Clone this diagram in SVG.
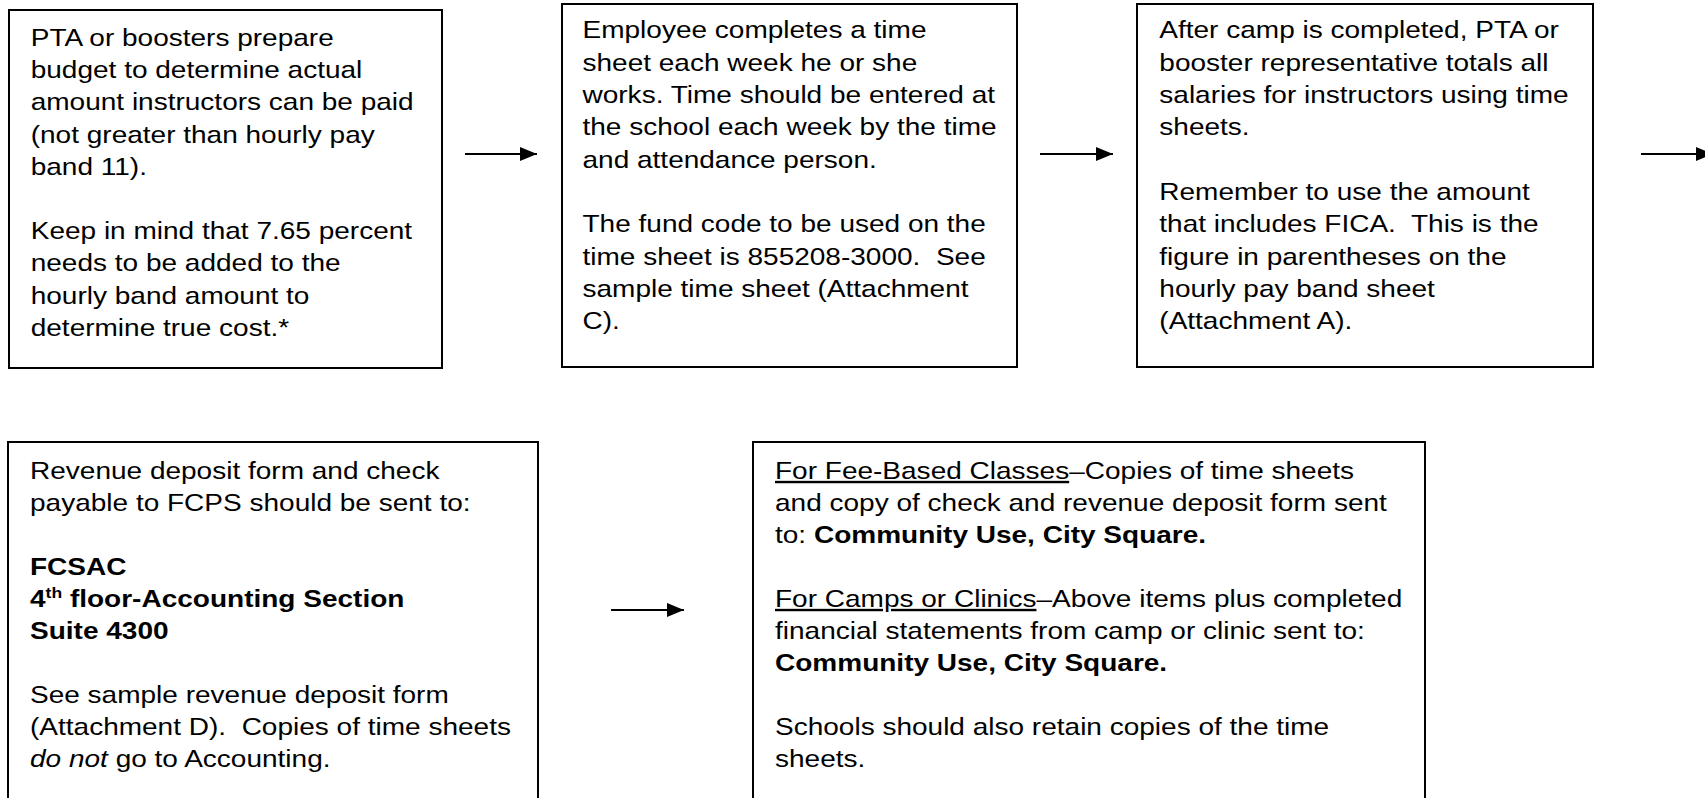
<svg xmlns="http://www.w3.org/2000/svg" width="1705" height="798" viewBox="0 0 1705 798">
<style>
.box{fill:#fff;stroke:#000;stroke-width:2}
.t{font-family:"Liberation Sans",Arial,sans-serif;font-size:24px;fill:#000}
.b{font-weight:bold}
.u{text-decoration:underline}
.conn{stroke:#000;stroke-width:2;fill:none;marker-end:url(#ah)}
</style>
<defs>
<marker id="ah" markerUnits="userSpaceOnUse" markerWidth="18" markerHeight="16" refX="17" refY="7" orient="auto">
<path d="M0,0 L17,7 L0,14 Z" fill="#000"/>
</marker>
</defs>
<rect width="1705" height="798" fill="#fff"/>

<g id="node1">
<rect class="box" x="9" y="10" width="433" height="358"/>
<g transform="translate(30.7 0) scale(1.167 1)">
<text class="t" x="0" y="46">PTA or boosters prepare</text>
<text class="t" x="0" y="78.2">budget to determine actual</text>
<text class="t" x="0" y="110.4">amount instructors can be paid</text>
<text class="t" x="0" y="142.6">(not greater than hourly pay</text>
<text class="t" x="0" y="174.8">band 11).</text>
<text class="t" x="0" y="239.2">Keep in mind that 7.65 percent</text>
<text class="t" x="0" y="271.4">needs to be added to the</text>
<text class="t" x="0" y="303.6">hourly band amount to</text>
<text class="t" x="0" y="335.8">determine true cost.*</text>
</g>
</g>

<g id="node2">
<rect class="box" x="562" y="4" width="455" height="363"/>
<g transform="translate(582.5 0) scale(1.167 1)">
<text class="t" x="0" y="38.5">Employee completes a time</text>
<text class="t" x="0" y="70.8">sheet each week he or she</text>
<text class="t" x="0" y="103.1">works. Time should be entered at</text>
<text class="t" x="0" y="135.4">the school each week by the time</text>
<text class="t" x="0" y="167.7">and attendance person.</text>
<text class="t" x="0" y="232.3">The fund code to be used on the</text>
<text class="t" x="0" y="264.6" xml:space="preserve">time sheet is 855208-3000.  See</text>
<text class="t" x="0" y="296.9">sample time sheet (Attachment</text>
<text class="t" x="0" y="329.2">C).</text>
</g>
</g>

<g id="node3">
<rect class="box" x="1137" y="4" width="456" height="363"/>
<g transform="translate(1159.3 0) scale(1.167 1)">
<text class="t" x="0" y="38.5">After camp is completed, PTA or</text>
<text class="t" x="0" y="70.8">booster representative totals all</text>
<text class="t" x="0" y="103.1">salaries for instructors using time</text>
<text class="t" x="0" y="135.4">sheets.</text>
<text class="t" x="0" y="200">Remember to use the amount</text>
<text class="t" x="0" y="232.3" xml:space="preserve">that includes FICA.  This is the</text>
<text class="t" x="0" y="264.6">figure in parentheses on the</text>
<text class="t" x="0" y="296.9">hourly pay band sheet</text>
<text class="t" x="0" y="329.2">(Attachment A).</text>
</g>
</g>

<g id="node4">
<rect class="box" x="8" y="442" width="530" height="400"/>
<g transform="translate(30 0) scale(1.167 1)">
<text class="t" x="0" y="479">Revenue deposit form and check</text>
<text class="t" x="0" y="511">payable to FCPS should be sent to:</text>
<text class="t b" x="0" y="575">FCSAC</text>
<text class="t b" x="0" y="607">4<tspan font-size="15" dy="-9">th</tspan><tspan dy="9"> floor-Accounting Section</tspan></text>
<text class="t b" x="0" y="639">Suite 4300</text>
<text class="t" x="0" y="703">See sample revenue deposit form</text>
<text class="t" x="0" y="735" xml:space="preserve">(Attachment D).  Copies of time sheets</text>
<text class="t" x="0" y="767"><tspan font-style="italic">do not</tspan> go to Accounting.</text>
</g>
</g>

<g id="node5">
<rect class="box" x="753" y="442" width="672" height="400"/>
<g transform="translate(775 0) scale(1.167 1)">
<text class="t" x="0" y="479"><tspan class="u">For Fee-Based Classes</tspan>–Copies of time sheets</text>
<text class="t" x="0" y="511">and copy of check and revenue deposit form sent</text>
<text class="t" x="0" y="543">to: <tspan class="b">Community Use, City Square.</tspan></text>
<text class="t" x="0" y="607"><tspan class="u">For Camps or Clinics</tspan>–Above items plus completed</text>
<text class="t" x="0" y="639">financial statements from camp or clinic sent to:</text>
<text class="t b" x="0" y="671">Community Use, City Square.</text>
<text class="t" x="0" y="735">Schools should also retain copies of the time</text>
<text class="t" x="0" y="767">sheets.</text>
</g>
</g>

<g id="connectors">
<line class="conn" x1="465" y1="154" x2="537" y2="154"/>
<line class="conn" x1="1040" y1="154" x2="1113" y2="154"/>
<line class="conn" x1="1641" y1="154" x2="1713" y2="154"/>
<line class="conn" x1="611" y1="610" x2="684" y2="610"/>
</g>
</svg>
